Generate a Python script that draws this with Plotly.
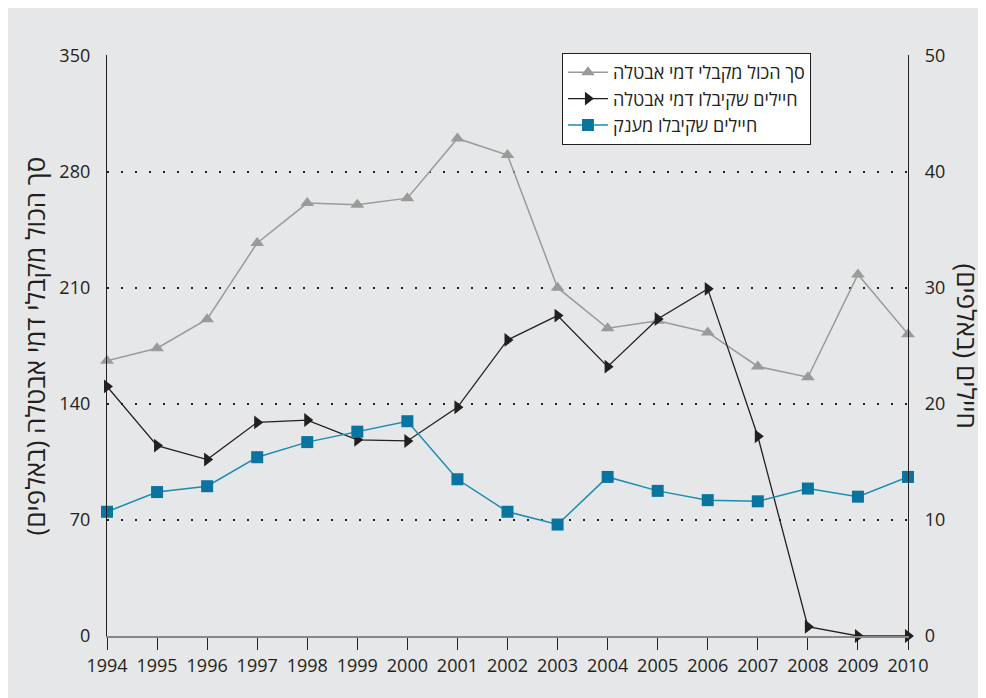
import plotly.graph_objects as go

years = list(range(1994, 2011))
total_unemp = [166, 173.5, 191, 237, 261, 260, 264, 300, 290, 210, 185.5, 190, 183, 162.5, 156, 218, 182]
soldiers_unemp = [21.5, 16.4, 15.2, 18.4, 18.6, 16.9, 16.8, 19.7, 25.5, 27.6, 23.2, 27.3, 29.9, 17.2, 0.8, 0, 0]
soldiers_grant = [10.7, 12.4, 12.9, 15.4, 16.7, 17.6, 18.5, 13.5, 10.7, 9.6, 13.7, 12.5, 11.7, 11.6, 12.7, 12.0, 13.7]

name_total = "סך הכול מקבלי דמי אבטלה"
name_unemp = "חיילים שקיבלו דמי אבטלה"
name_grant = "חיילים שקיבלו מענק"
left_title = "סך הכול מקבלי דמי אבטלה (באלפים)"
right_title = "חיילים (באלפים)"

left_ticks = [0, 70, 140, 210, 280, 350]
right_ticks = [0, 10, 20, 30, 40, 50]

BG = "#e6e7e8"
FONT = "Liberation Sans Narrow, Open Sans, sans-serif"
HFONT = "Open Sans, sans-serif"

fig = go.Figure()
fig.add_trace(go.Scatter(
    x=years, y=total_unemp, name=name_total, mode="lines+markers",
    line=dict(color="#9a9a9a", width=1.5),
    marker=dict(symbol="triangle-up", size=12, color="#9a9a9a"),
    cliponaxis=False, yaxis="y"))
fig.add_trace(go.Scatter(
    x=years, y=soldiers_unemp, name=name_unemp, mode="lines+markers",
    line=dict(color="#231f20", width=1.3),
    marker=dict(symbol="triangle-right", size=12, color="#231f20"),
    cliponaxis=False, yaxis="y2"))
fig.add_trace(go.Scatter(
    x=years, y=soldiers_grant, name=name_grant, mode="lines+markers",
    line=dict(color="#1b8bb4", width=1.5),
    marker=dict(symbol="square", size=12, color="#0a74a0"),
    cliponaxis=False, yaxis="y2"))

fig.update_layout(
    width=986, height=698,
    paper_bgcolor=BG, plot_bgcolor=BG,
    margin=dict(l=99, r=86, t=47, b=70, autoexpand=False),
    font=dict(family=FONT, size=18, color="#231f20"),
    showlegend=True,
    legend=dict(x=0.568, y=1.0034, xanchor="left", yanchor="top",
                bgcolor="white", bordercolor="#231f20", borderwidth=1,
                font=dict(size=18, family=HFONT),
                itemwidth=40, tracegroupgap=0),
    xaxis=dict(range=[1994, 2010], tickmode="array", tickvals=years,
               ticks="outside", ticklen=12, tickcolor="#231f20", tickwidth=1,
               showgrid=False, zeroline=False, automargin=False,
               showline=True, linecolor="#888888", linewidth=2,
               tickfont=dict(size=18)),
    yaxis=dict(range=[0, 350.3], tickvals=left_ticks, showgrid=True,
               gridcolor="#231f20", gridwidth=2, griddash="2px,12px",
               zeroline=False, showline=True, linecolor="#231f20", linewidth=1.3,
               ticks="", ticklabelstandoff=12, tickfont=dict(size=18), automargin=False),
    yaxis2=dict(range=[0, 50.043], tickvals=right_ticks, overlaying="y", side="right",
                showgrid=False, zeroline=False, showline=True, linecolor="#231f20",
                linewidth=1.3, ticks="", ticklabelstandoff=12, tickfont=dict(size=18),
                automargin=False),
    annotations=[
        dict(text=left_title, x=-0.09, y=0.5, xref="paper", yref="paper",
             showarrow=False, textangle=-90, font=dict(size=26, family=HFONT),
             xanchor="center", yanchor="middle"),
        dict(text=right_title, x=1.0, y=0.5, xref="paper", yref="paper",
             showarrow=False, textangle=90, font=dict(size=26, family=HFONT),
             xanchor="center", yanchor="middle", xshift=59),
    ],
)
fig.write_html("out.html")
